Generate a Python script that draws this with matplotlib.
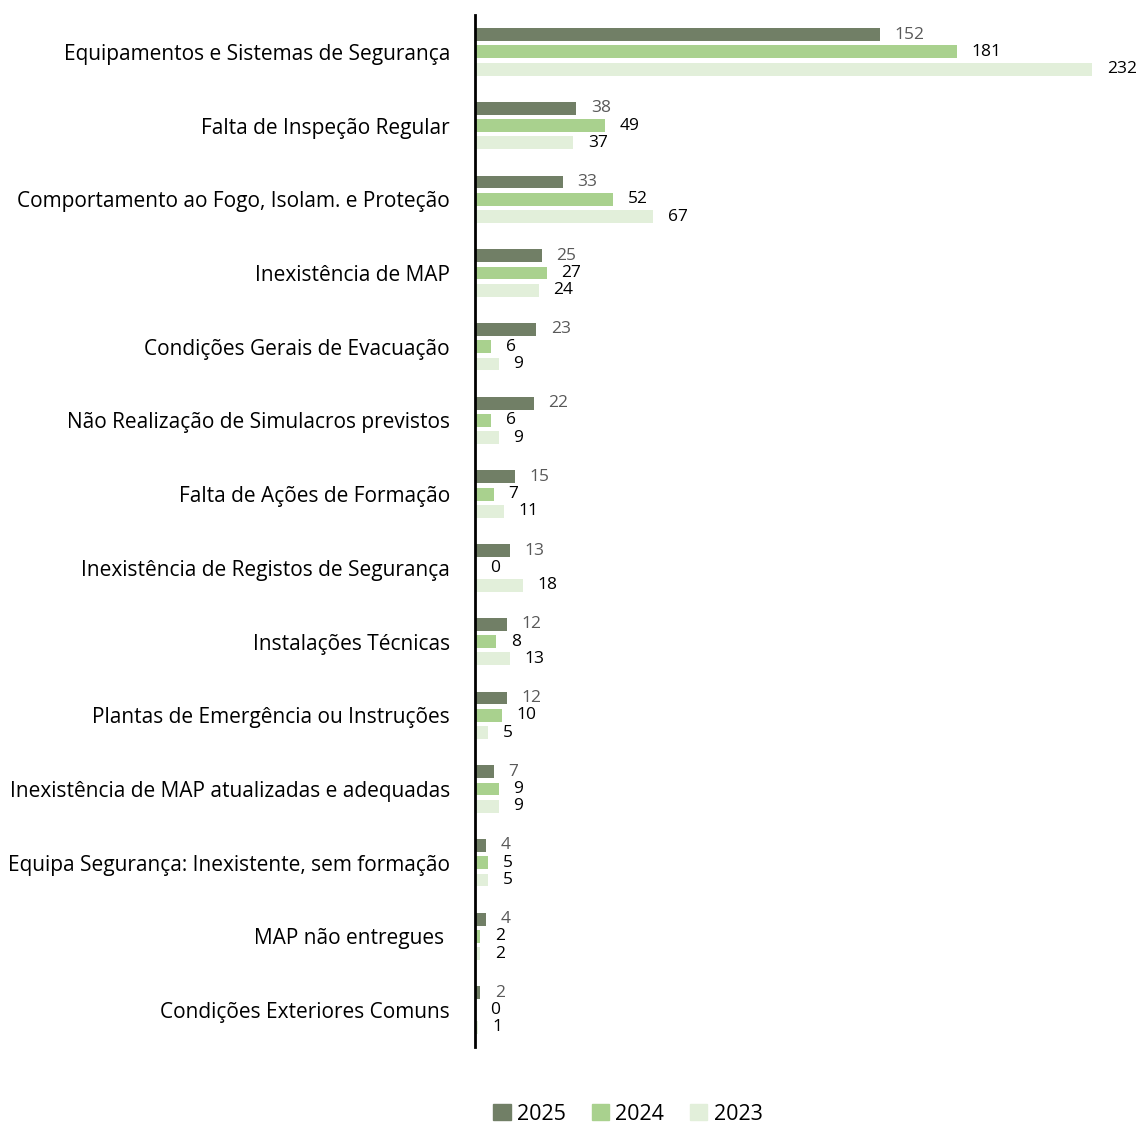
import matplotlib.pyplot as plt
from matplotlib.patches import Patch
import numpy as np

categories = [
    "Equipamentos e Sistemas de Segurança",
    "Falta de Inspeção Regular",
    "Comportamento ao Fogo, Isolam. e Proteção",
    "Inexistência de MAP",
    "Condições Gerais de Evacuação",
    "Não Realização de Simulacros previstos",
    "Falta de Ações de Formação",
    "Inexistência de Registos de Segurança",
    "Instalações Técnicas",
    "Plantas de Emergência ou Instruções",
    "Inexistência de MAP atualizadas e adequadas",
    "Equipa Segurança: Inexistente, sem formação",
    "MAP não entregues ",
    "Condições Exteriores Comuns",
]
values_2025 = [152, 38, 33, 25, 23, 22, 15, 13, 12, 12, 7, 4, 4, 2]
values_2024 = [181, 49, 52, 27, 6, 6, 7, 0, 8, 10, 9, 5, 2, 0]
values_2023 = [232, 37, 67, 24, 9, 9, 11, 18, 13, 5, 9, 5, 2, 1]
years = ["2025", "2024", "2023"]

colors = ["#717f66", "#a9d18e", "#e2efda"]
label_colors = ["#595959", "black", "black"]

plt.rcParams['font.family'] = ['Open Sans', 'DejaVu Sans']

fig = plt.figure(figsize=(11.43, 11.24), dpi=100)
ax = fig.add_axes([475 / 1143, 1 - 1047 / 1124, 1 - 475 / 1143, 1032 / 1124])

y = np.arange(len(categories))
offsets = [-0.235, 0, 0.235]
series = [values_2025, values_2024, values_2023]
for vals, off, col, lcol in zip(series, offsets, colors, label_colors):
    ax.barh(y + off, vals, height=0.175, color=col, zorder=2)
    for yi, v in zip(y, vals):
        ax.text(v + 5.5, yi + off, str(v), va='center', ha='left',
                fontsize=12.5, color=lcol)

ax.set_xlim(0, 251)
ax.set_ylim(len(categories) - 0.5, -0.5)
ax.set_yticks(y)
ax.set_yticklabels(categories, fontsize=15)
ax.tick_params(axis='y', length=0, pad=18)
ax.set_xticks([])
for s in ['top', 'right', 'bottom']:
    ax.spines[s].set_visible(False)
ax.spines['left'].set_linewidth(2)
ax.spines['left'].set_color('black')

handles = [Patch(color=c, label=l) for c, l in zip(colors, years)]
fig.legend(handles=handles, loc='center', bbox_to_anchor=(628 / 1143, 1 - 1114 / 1124),
           ncol=3, frameon=False, fontsize=15.5, handlelength=0.8, handleheight=0.8,
           handletextpad=0.3, columnspacing=1.2)

fig.savefig("out.png", dpi=100)
